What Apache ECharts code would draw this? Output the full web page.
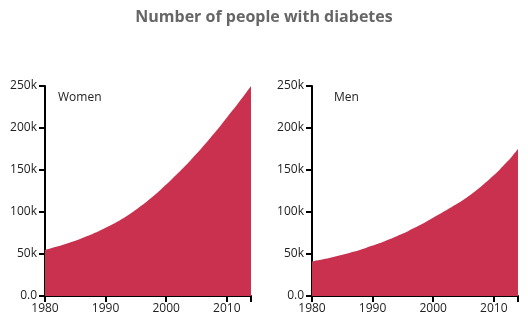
<!DOCTYPE html>
<html>
<head>
<meta charset="utf-8">
<script src="https://cdn.jsdelivr.net/npm/echarts@6/dist/echarts.min.js"></script>
<style>
  html, body { margin: 0; padding: 0; background: #fff; }
  #chart { width: 528px; height: 328px; }
</style>
</head>
<body>
<div id="chart"></div>
<script>
// Yearly estimates of people with diabetes, 1980–2014
const years = [1980, 1981, 1982, 1983, 1984, 1985, 1986, 1987, 1988, 1989,
               1990, 1991, 1992, 1993, 1994, 1995, 1996, 1997, 1998, 1999,
               2000, 2001, 2002, 2003, 2004, 2005, 2006, 2007, 2008, 2009,
               2010, 2011, 2012, 2013, 2014];
const women = [55000, 56900, 58900, 61000, 63300, 65800, 68500, 71400, 74500, 77800,
               81300, 84900, 88800, 93000, 97600, 102600, 108000, 113700, 119700, 126000,
               132600, 139500, 146600, 153900, 161400, 169200, 177300, 185700, 194300, 203100,
               212100, 221300, 230700, 240200, 250000];
const men = [41000, 42500, 44000, 45600, 47300, 49100, 51000, 53000, 55200, 57500,
             60000, 62600, 65300, 68200, 71200, 74400, 77800, 81400, 85200, 89100,
             93100, 97200, 101400, 105700, 110100, 114700, 119700, 125100, 130900, 137100,
             143700, 150700, 158200, 166200, 175000];
const panelNames = ['Women', 'Men'];
const yTicks = [0, 50000, 100000, 150000, 200000, 250000];

const FONT = 'Open Sans';
const AREA = '#c9314f';

const chart = echarts.init(document.getElementById('chart'), null, { renderer: 'canvas' });

const grids = [
  { left: 45, top: 86, width: 206, height: 210 },
  { left: 312, top: 86, width: 206, height: 210 }
];

function xAxisFor(i) {
  return {
    type: 'value', gridIndex: i,
    min: years[0], max: years[years.length - 1], interval: 10,
    splitLine: { show: false },
    axisLine: { show: true, lineStyle: { color: '#000', width: 2 } },
    axisTick: { show: true, length: 6, lineStyle: { color: '#000', width: 2 } },
    axisLabel: {
      color: '#222', fontFamily: FONT, fontSize: 12, margin: 7,
      formatter: v => (v % 10 === 0 ? String(v) : '')
    }
  };
}

function yAxisFor(i) {
  return {
    type: 'value', gridIndex: i,
    min: yTicks[0], max: yTicks[yTicks.length - 1], interval: yTicks[1] - yTicks[0],
    splitLine: { show: false },
    axisLine: { show: true, lineStyle: { color: '#000', width: 2 } },
    axisTick: { show: true, length: 6, lineStyle: { color: '#000', width: 2 } },
    axisLabel: {
      color: '#222', fontFamily: FONT, fontSize: 12, margin: 8,
      formatter: v => (v === 0 ? '0.0' : (v / 1000) + 'k')
    }
  };
}

function areaSeries(i, values) {
  return {
    type: 'line', xAxisIndex: i, yAxisIndex: i,
    data: years.map((y, k) => [y, values[k]]),
    smooth: 0.3,
    showSymbol: false, symbol: 'none',
    lineStyle: { width: 0 },
    areaStyle: { color: AREA, opacity: 1 },
    silent: true, animation: false
  };
}

chart.setOption({
  animation: false,
  title: [
    {
      text: 'Number of people with diabetes',
      left: 'center', top: 9, padding: 0,
      textStyle: { fontFamily: FONT, fontSize: 16, fontWeight: 'bold', color: '#666' }
    },
    {
      text: panelNames[0], left: 58, top: 92, padding: 0,
      textStyle: { fontFamily: FONT, fontSize: 12, fontWeight: 'normal', color: '#222' }
    },
    {
      text: panelNames[1], left: 334, top: 92, padding: 0,
      textStyle: { fontFamily: FONT, fontSize: 12, fontWeight: 'normal', color: '#222' }
    }
  ],
  grid: grids,
  xAxis: [xAxisFor(0), xAxisFor(1)],
  yAxis: [yAxisFor(0), yAxisFor(1)],
  series: [areaSeries(0, women), areaSeries(1, men)]
});
</script>
</body>
</html>
